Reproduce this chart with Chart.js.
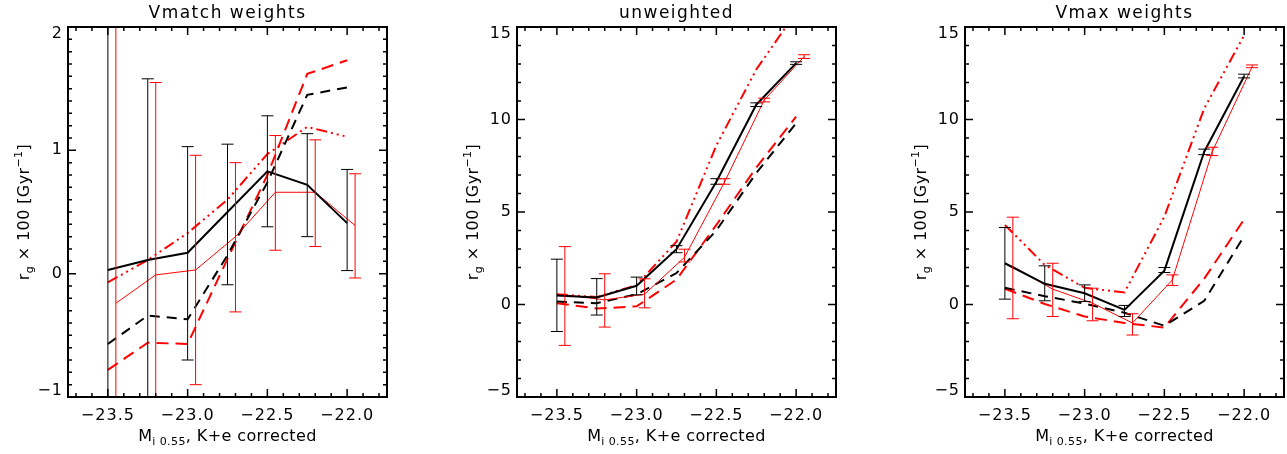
<!DOCTYPE html>
<html>
<head>
<meta charset="utf-8">
<script src="https://cdn.jsdelivr.net/npm/chart.js@4/dist/chart.umd.min.js"></script>
<style>
  body { margin: 0; background: #fff; }
  #wrap { position: relative; width: 1287px; height: 454px; overflow: hidden; }
  #wrap canvas { position: absolute; top: 0; }
</style>
</head>
<body>
<div id="wrap">
  <canvas id="p-vmatch" width="390" height="454" style="left:0px"></canvas>
  <canvas id="p-unweighted" width="390" height="454" style="left:449px"></canvas>
  <canvas id="p-vmax" width="390" height="454" style="left:897px"></canvas>
</div>
<script>
// magnitude bins; red series are plotted slightly shifted so the bars don't overlap
var MAGS = [-23.5, -23.25, -23.0, -22.75, -22.5, -22.25, -22.0];
var RED_MAGS = [-23.45, -23.2, -22.95, -22.7, -22.45, -22.2, -21.95];
var X_TICKS = [-23.5, -23.0, -22.5, -22.0];
var Y_TICKS_VMATCH = [-1, 0, 1, 2];
var Y_TICKS_WIDE = [-5, 0, 5, 10, 15];
var PANEL_TITLES = ['Vmatch weights', 'unweighted', 'Vmax weights'];

// --- Vmatch weights ---
var vmBlack      = [0.03, 0.11, 0.17, 0.50, 0.83, 0.72, 0.41];
var vmBlackLo    = [-3, -3, -0.70, -0.09, 0.38, 0.30, 0.025];
var vmBlackHi    = [4, 1.58, 1.03, 1.05, 1.28, 1.135, 0.845];
var vmRed        = [-0.24, -0.01, 0.03, 0.30, 0.66, 0.66, 0.39];
var vmRedLo      = [-3, -3, -0.90, -0.31, 0.19, 0.22, -0.035];
var vmRedHi      = [4, 1.55, 0.96, 0.90, 1.12, 1.085, 0.81];
var vmBlackDash  = [-0.57, -0.34, -0.37, 0.15, 0.74, 1.45, 1.51];
var vmRedDash    = [-0.78, -0.56, -0.57, 0.12, 0.80, 1.62, 1.73];
var vmRedDashDot = [-0.07, 0.11, 0.33, 0.60, 0.97, 1.19, 1.11];

// --- unweighted ---
var uwBlack      = [0.49, 0.38, 1.01, 2.99, 6.64, 10.8, 13.05];
var uwBlackLo    = [-1.46, -0.57, 0.52, 2.80, 6.5, 10.7, 12.98];
var uwBlackHi    = [2.45, 1.40, 1.48, 3.18, 6.8, 10.9, 13.12];
var uwRed        = [0.52, 0.25, 0.56, 2.55, 6.6, 11.05, 13.4];
var uwRedLo      = [-2.21, -1.22, -0.18, 2.3, 6.5, 10.95, 13.3];
var uwRedHi      = [3.13, 1.66, 1.39, 2.99, 6.8, 11.15, 13.5];
var uwBlackDash  = [0.16, 0.07, 0.55, 1.7, 4.0, 7.1, 9.8];
var uwRedDash    = [0.07, -0.22, -0.1, 1.35, 4.3, 7.4, 10.15];
var uwRedDashDot = [0.55, 0.4, 1.05, 3.4, 8.6, 12.7, 15.8];

// --- Vmax weights ---
var vxBlack      = [2.23, 1.12, 0.61, -0.29, 1.83, 8.26, 12.34];
var vxBlackLo    = [0.29, 0.2, 0.16, -0.65, 1.73, 8.1, 12.25];
var vxBlackHi    = [4.16, 2.09, 1.06, -0.05, 2.0, 8.4, 12.45];
var vxRed        = [2.05, 0.83, 0.07, -1.0, 1.33, 8.26, 12.85];
var vxRedLo      = [-0.77, -0.65, -0.88, -1.65, 1.03, 8.05, 12.8];
var vxRedHi      = [4.72, 2.23, 0.88, -0.5, 1.6, 8.5, 12.95];
var vxBlackDash  = [0.9, 0.45, 0.05, -0.45, -1.15, 0.2, 3.7];
var vxRedDash    = [0.85, 0.03, -0.65, -1.0, -1.25, 1.4, 4.6];
var vxRedDashDot = [4.3, 2.14, 0.9, 0.65, 4.75, 10.6, 14.55];

var FONT = '"DejaVu Sans", sans-serif';
var RED = '#ff0000';

function pts(xs, ys) {
  return xs.map(function (x, i) { return { x: x, y: ys[i] }; });
}

// draws a run of text pieces (size, baseline shift) starting at x
function drawRich(ctx, parts, x, y) {
  parts.forEach(function (p) {
    ctx.font = p.size + 'px ' + FONT;
    ctx.fillText(p.t, x, y + (p.dy || 0));
    x += ctx.measureText(p.t).width;
  });
}

function richWidth(ctx, parts) {
  var w = 0;
  parts.forEach(function (p) {
    ctx.font = p.size + 'px ' + FONT;
    w += ctx.measureText(p.t).width;
  });
  return w;
}

var X_TITLE = [
  { t: 'M', size: 16 },
  { t: 'i 0.55', size: 11, dy: 4 },
  { t: ', K+e corrected', size: 16 }
];
var Y_TITLE = [
  { t: 'r', size: 16 },
  { t: 'g', size: 11, dy: 4 },
  { t: ' \u00d7 100 [Gyr', size: 16 },
  { t: '\u22121', size: 11, dy: -7 },
  { t: ']', size: 16 }
];

// IDL style frame: box, inward ticks on all sides, error bars, titles
function idlPlugin(cfg) {
  return {
    id: 'idl',
    beforeDraw: function (chart) {
      // IDL's vector font is widely spaced; widen the tick labels a bit
      chart.ctx.letterSpacing = '1px';
    },
    afterDatasetsDraw: function (chart) {
      var ctx = chart.ctx, a = chart.chartArea;
      var xs = chart.scales.x, ys = chart.scales.y;
      ctx.letterSpacing = '0px';

      ctx.save();
      ctx.beginPath();
      ctx.rect(a.left, a.top, a.right - a.left, a.bottom - a.top);
      ctx.clip();
      cfg.errors.forEach(function (e) {
        ctx.strokeStyle = e.color;
        ctx.lineWidth = 1;
        e.x.forEach(function (xv, i) {
          var px = xs.getPixelForValue(xv);
          var lo = ys.getPixelForValue(e.lo[i]);
          var hi = ys.getPixelForValue(e.hi[i]);
          ctx.beginPath();
          ctx.moveTo(px, lo); ctx.lineTo(px, hi);
          ctx.moveTo(px - 6, lo); ctx.lineTo(px + 6, lo);
          ctx.moveTo(px - 6, hi); ctx.lineTo(px + 6, hi);
          ctx.stroke();
        });
      });
      ctx.restore();

      ctx.save();
      ctx.strokeStyle = '#000';
      ctx.lineWidth = 1.5;
      var k, v, p, len;
      for (k = Math.ceil(xs.min / 0.1 - 1e-6); k <= Math.floor(xs.max / 0.1 + 1e-6); k++) {
        v = k * 0.1;
        len = Math.abs(v / 0.5 - Math.round(v / 0.5)) < 1e-6 ? 8 : 4;
        p = xs.getPixelForValue(v);
        ctx.beginPath();
        ctx.moveTo(p, a.bottom); ctx.lineTo(p, a.bottom - len);
        ctx.moveTo(p, a.top); ctx.lineTo(p, a.top + len);
        ctx.stroke();
      }
      for (k = Math.ceil(ys.min / cfg.yMinor - 1e-6); k <= Math.floor(ys.max / cfg.yMinor + 1e-6); k++) {
        v = k * cfg.yMinor;
        len = Math.abs(v / cfg.yMajor - Math.round(v / cfg.yMajor)) < 1e-6 ? 8 : 4;
        p = ys.getPixelForValue(v);
        ctx.beginPath();
        ctx.moveTo(a.left, p); ctx.lineTo(a.left + len, p);
        ctx.moveTo(a.right, p); ctx.lineTo(a.right - len, p);
        ctx.stroke();
      }
      ctx.lineWidth = 2;
      ctx.strokeRect(a.left, a.top, a.right - a.left, a.bottom - a.top);

      // titles
      var cx = (a.left + a.right) / 2;
      ctx.fillStyle = '#000';
      ctx.textBaseline = 'alphabetic';
      ctx.textAlign = 'center';
      ctx.font = '17px ' + FONT;
      ctx.letterSpacing = '1.5px';
      ctx.fillText(cfg.title, cx, 18);
      ctx.letterSpacing = '0.4px';

      ctx.textAlign = 'left';
      drawRich(ctx, X_TITLE, cx - richWidth(ctx, X_TITLE) / 2, 441);

      ctx.translate(29, (a.top + a.bottom) / 2);
      ctx.rotate(-Math.PI / 2);
      drawRich(ctx, Y_TITLE, -richWidth(ctx, Y_TITLE) / 2, 0);
      ctx.restore();
      ctx.letterSpacing = '0px';
    }
  };
}

function makePanel(canvasId, title, yMin, yMax, yTicks, yMinor, yMajor, s) {
  var datasets = [
    { data: pts(MAGS, s.black), borderColor: '#000', borderWidth: 2 },
    { data: pts(RED_MAGS, s.red), borderColor: RED, borderWidth: 1 },
    { data: pts(MAGS, s.blackDash), borderColor: '#000', borderWidth: 2, borderDash: [10, 7] },
    { data: pts(MAGS, s.redDash), borderColor: RED, borderWidth: 2, borderDash: [12, 7] },
    { data: pts(MAGS, s.redDashDot), borderColor: RED, borderWidth: 2, borderDash: [11, 4, 2, 4, 2, 4, 2, 4] }
  ];
  datasets.forEach(function (d) {
    d.pointRadius = 0;
    d.tension = 0;
    d.fill = false;
    d.clip = 0;
  });

  return new Chart(document.getElementById(canvasId), {
    type: 'line',
    data: { datasets: datasets },
    options: {
      responsive: false,
      devicePixelRatio: 1,
      animation: false,
      layout: { padding: { top: 27, right: 3, left: 0, bottom: 0 } },
      plugins: { legend: { display: false }, tooltip: { enabled: false } },
      scales: {
        x: {
          type: 'linear',
          min: -23.75,
          max: -21.75,
          afterBuildTicks: function (sc) { sc.ticks = X_TICKS.map(function (v) { return { value: v }; }); },
          afterFit: function (sc) { sc.height = 57; },
          grid: { display: false, drawTicks: false },
          border: { display: false },
          ticks: {
            color: '#000',
            font: { family: FONT, size: 16 },
            padding: 9,
            maxRotation: 0,
            autoSkip: false,
            callback: function (v) { return '\u2212' + Math.abs(v).toFixed(1); }
          }
        },
        y: {
          type: 'linear',
          min: yMin,
          max: yMax,
          afterBuildTicks: function (sc) { sc.ticks = yTicks.map(function (v) { return { value: v }; }); },
          afterFit: function (sc) { sc.width = 68; },
          grid: { display: false, drawTicks: false },
          border: { display: false },
          ticks: {
            color: '#000',
            font: { family: FONT, size: 16, lineHeight: 0.8 },
            padding: 5,
            autoSkip: false,
            // end labels sit a little inside the axis, as in the original plot
            callback: function (v, i, all) {
              var str = (v < 0 ? '\u2212' : '') + Math.abs(v);
              if (i === all.length - 1) return ['', str];
              if (i === 0) return [str, ''];
              return str;
            }
          }
        }
      }
    },
    plugins: [idlPlugin({
      title: title,
      yMinor: yMinor,
      yMajor: yMajor,
      errors: [
        { x: MAGS, lo: s.blackLo, hi: s.blackHi, color: '#000' },
        { x: RED_MAGS, lo: s.redLo, hi: s.redHi, color: RED }
      ]
    })]
  });
}

makePanel('p-vmatch', PANEL_TITLES[0], -1, 2, Y_TICKS_VMATCH, 0.1, 1, {
  black: vmBlack, blackLo: vmBlackLo, blackHi: vmBlackHi,
  red: vmRed, redLo: vmRedLo, redHi: vmRedHi,
  blackDash: vmBlackDash, redDash: vmRedDash, redDashDot: vmRedDashDot
});
makePanel('p-unweighted', PANEL_TITLES[1], -5, 15, Y_TICKS_WIDE, 1, 5, {
  black: uwBlack, blackLo: uwBlackLo, blackHi: uwBlackHi,
  red: uwRed, redLo: uwRedLo, redHi: uwRedHi,
  blackDash: uwBlackDash, redDash: uwRedDash, redDashDot: uwRedDashDot
});
makePanel('p-vmax', PANEL_TITLES[2], -5, 15, Y_TICKS_WIDE, 1, 5, {
  black: vxBlack, blackLo: vxBlackLo, blackHi: vxBlackHi,
  red: vxRed, redLo: vxRedLo, redHi: vxRedHi,
  blackDash: vxBlackDash, redDash: vxRedDash, redDashDot: vxRedDashDot
});
</script>
</body>
</html>
